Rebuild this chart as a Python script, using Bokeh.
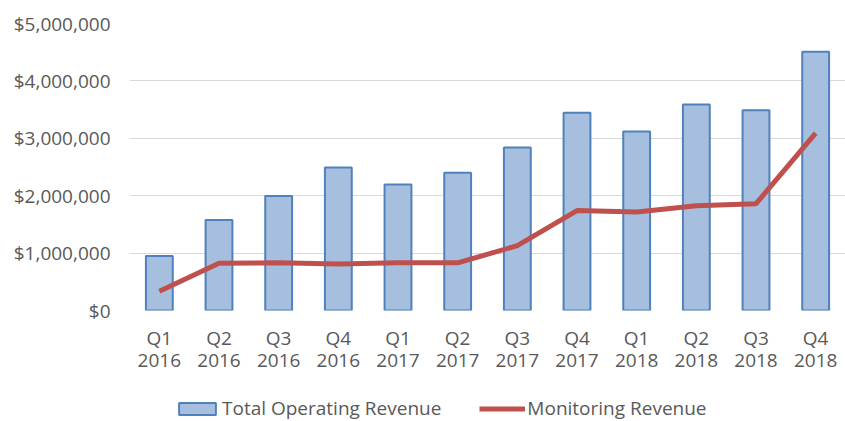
from bokeh.plotting import figure
from bokeh.models import (ColumnDataSource, Legend, LegendItem, NumeralTickFormatter,
                          FixedTicker, Range1d, LinearAxis)
from bokeh.layouts import column
from bokeh.embed import file_html
from bokeh.resources import INLINE

quarters = ["Q1 2016", "Q2 2016", "Q3 2016", "Q4 2016",
            "Q1 2017", "Q2 2017", "Q3 2017", "Q4 2017",
            "Q1 2018", "Q2 2018", "Q3 2018", "Q4 2018"]
total_operating_revenue = [950000, 1575000, 1995000, 2490000,
                           2195000, 2400000, 2840000, 3445000,
                           3120000, 3590000, 3490000, 4510000]
monitoring_revenue = [335000, 825000, 830000, 810000,
                      830000, 830000, 1130000, 1740000,
                      1715000, 1825000, 1860000, 3090000]
y_ticks = [0, 1000000, 2000000, 3000000, 4000000, 5000000]

idx = list(range(len(quarters)))
src = ColumnDataSource(dict(i=idx, tot=total_operating_revenue, mon=monitoring_revenue))

FONT = "Open Sans"
GRAY = "#595959"
FS = "19px"
BAR_FILL = "#A7BFDE"
BAR_LINE = "#4F81BD"
LINE_COL = "#C0504D"

p = figure(x_range=Range1d(-0.5, len(quarters) - 0.5), y_range=Range1d(0, 5000000),
           width=845, height=381, output_backend="svg", toolbar_location=None,
           x_axis_location=None,
           min_border_left=129, min_border_right=0, min_border_top=23, min_border_bottom=71)
p.outline_line_color = None
p.background_fill_color = "white"

bars = p.vbar(x="i", top="tot", width=0.45, source=src,
              fill_color=BAR_FILL, line_color=BAR_LINE, line_width=2)
line = p.line(x="i", y="mon", source=src, line_color=LINE_COL, line_width=5)

p.yaxis.ticker = FixedTicker(ticks=y_ticks)
p.yaxis.formatter = NumeralTickFormatter(format="$0,0")
p.ygrid.ticker = FixedTicker(ticks=y_ticks)
p.ygrid.grid_line_color = "#D9D9D9"
p.ygrid.grid_line_width = 1
p.xgrid.grid_line_color = None

q_axis = LinearAxis(ticker=FixedTicker(ticks=idx),
                    major_label_overrides={i: quarters[i].split(" ")[0] for i in idx})
y_axis_years = LinearAxis(ticker=FixedTicker(ticks=idx),
                          major_label_overrides={i: quarters[i].split(" ")[1] for i in idx})
p.add_layout(q_axis, "below")
p.add_layout(y_axis_years, "below")

def style(ax):
    ax.axis_line_color = None
    ax.major_tick_line_color = None
    ax.minor_tick_line_color = None
    ax.major_tick_in = 0
    ax.major_tick_out = 0
    ax.minor_tick_in = 0
    ax.minor_tick_out = 0
    ax.major_label_text_font = FONT
    ax.major_label_text_font_size = FS
    ax.major_label_text_color = GRAY

for ax in (p.yaxis[0], q_axis, y_axis_years):
    style(ax)

p.yaxis.major_label_standoff = 19
q_axis.major_label_standoff = 14
y_axis_years.major_label_standoff = 0

# legend strip under the chart (frames of the column are aligned)
nan = float("nan")
p2 = figure(x_range=Range1d(0, 1), y_range=Range1d(0, 1), width=845, height=40,
            output_backend="svg", toolbar_location=None,
            x_axis_type=None, y_axis_type=None, min_border=0)
p2.outline_line_color = None
p2.xgrid.grid_line_color = None
p2.ygrid.grid_line_color = None
lb = p2.vbar(x=[nan], top=[nan], width=0.45, fill_color=BAR_FILL, line_color=BAR_LINE, line_width=2)
ll = p2.line(x=[nan, nan], y=[nan, nan], line_color=LINE_COL, line_width=5)
legend = Legend(items=[LegendItem(label="Total Operating Revenue", renderers=[lb]),
                       LegendItem(label="Monitoring Revenue", renderers=[ll])],
                orientation="horizontal", location=(45, 0),
                glyph_width=46, glyph_height=15, spacing=38, label_standoff=2,
                label_text_font=FONT, label_text_font_size=FS, label_text_color=GRAY,
                border_line_color=None, background_fill_alpha=0, padding=0, margin=0)
p2.add_layout(legend, "center")

layout = column(p, p2, spacing=0)
open("out.html", "w").write(file_html(layout, INLINE))
